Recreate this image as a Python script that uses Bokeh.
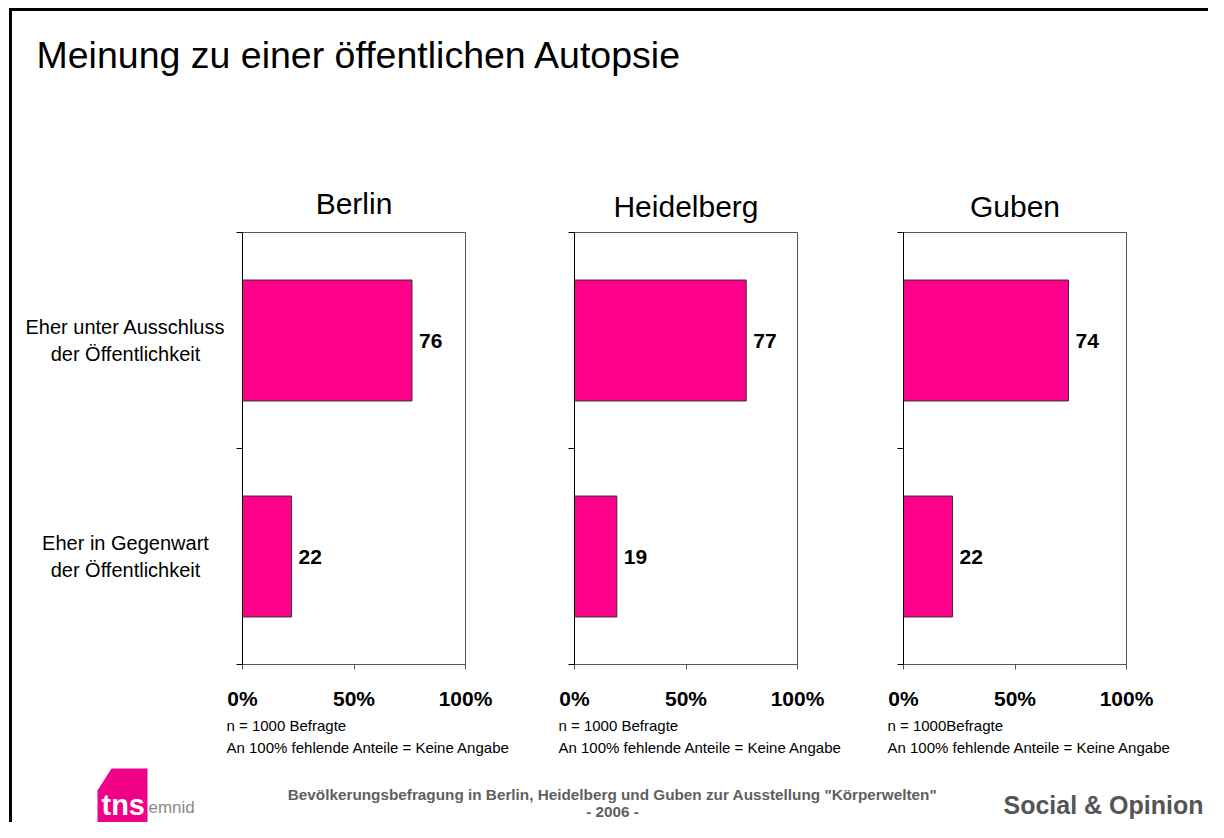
from bokeh.plotting import figure
from bokeh.layouts import row, column
from bokeh.models import Range1d, FixedTicker, Div
from bokeh.core.properties import value
from bokeh.embed import file_html
from bokeh.resources import INLINE

# ---------------- data ----------------
title_text = "Meinung zu einer öffentlichen Autopsie"
cities = ["Berlin", "Heidelberg", "Guben"]
categories = ["Eher unter Ausschluss\nder Öffentlichkeit",
              "Eher in Gegenwart\nder Öffentlichkeit"]
berlin = [76, 22]
heidelberg = [77, 19]
guben = [74, 22]
x_ticks = [0, 50, 100]
x_tick_labels = ["0%", "50%", "100%"]
sample_notes = ["n = 1000 Befragte", "n = 1000 Befragte", "n = 1000Befragte"]
missing_note = "An 100% fehlende Anteile = Keine Angabe"
footer_lines = ['Bevölkerungsbefragung in Berlin, Heidelberg und Guben zur Ausstellung "Körperwelten"',
                "- 2006 -"]
brand_text = "Social & Opinion"

series = [berlin, heidelberg, guben]

# ---------------- layout constants (picture pixels) ----------------
FONT = "Liberation Sans"
PINK = "#FF008C"
ROOT_W, ROOT_H = 1208, 822
BORDER_X, BORDER_Y, BORDER_T = 9, 8, 3
LEFT = BORDER_X + BORDER_T          # 12
HEADER_TOP = BORDER_Y + BORDER_T    # 11
PANEL_TOP, PANEL_BOTTOM = 226, 714
CAT_W = 214
fig_w = [330, 330, ROOT_W - (LEFT + CAT_W + 660)]
frame_left_border = [16, 18, 17]
FRAME_W = 223
frame_top_border = [6, 5, 6]
frame_h = [435, 433, 434]

fig_x = [LEFT + CAT_W]
for w in fig_w[:-1]:
    fig_x.append(fig_x[-1] + w)
frame_x = [fx + b for fx, b in zip(fig_x, frame_left_border)]

ys = [i + 0.5 for i in range(len(categories))]


def blank(w, h, xr, yr, **kw):
    p = figure(width=w, height=h, x_range=xr, y_range=yr, toolbar_location=None,
               tools="", output_backend="svg", x_axis_type=None, y_axis_type=None,
               outline_line_color=None, **kw)
    p.grid.visible = False
    return p


# ---------------- header ----------------
header = blank(ROOT_W - LEFT, PANEL_TOP - HEADER_TOP, Range1d(LEFT, ROOT_W),
               Range1d(PANEL_TOP, HEADER_TOP), min_border=0)
header.text(x=[36], y=[54], text=[title_text], text_font=value(FONT),
            text_font_size="37.5px", text_baseline="middle", text_align="left",
            text_color="black")
header.text(x=[fx + FRAME_W / 2 for fx in frame_x], y=[203, 206, 206], text=cities,
            text_font=value(FONT), text_font_size="30px", text_baseline="middle",
            text_align="center", text_color="black")

# ---------------- panels ----------------
shared_y = Range1d(len(categories), 0)
panel_h = PANEL_BOTTOM - PANEL_TOP

catfig = blank(CAT_W, panel_h, Range1d(LEFT, LEFT + CAT_W), shared_y,
               min_border=0, min_border_top=frame_top_border[0],
               min_border_bottom=panel_h - frame_top_border[0] - frame_h[0])
catfig.text(x=[125] * len(categories), y=ys, text=categories, text_font=value(FONT),
            text_font_size="20px", text_align="center", text_baseline="middle",
            text_line_height=1.2, text_color="black")

panels = []
for i, vals in enumerate(series):
    yr = shared_y if i == 0 else Range1d(len(categories), 0)
    p = figure(width=fig_w[i], height=panel_h, x_range=Range1d(0, 100), y_range=yr,
               toolbar_location=None, tools="", output_backend="svg",
               min_border_left=frame_left_border[i],
               min_border_right=fig_w[i] - frame_left_border[i] - FRAME_W,
               min_border_top=frame_top_border[i],
               min_border_bottom=panel_h - frame_top_border[i] - frame_h[i],
               outline_line_color="#555555", outline_line_width=1)
    p.grid.visible = False
    p.hbar(y=ys, left=0, right=vals, height=0.56, fill_color=PINK,
           line_color="#333333", line_width=1)
    p.text(x=vals, y=ys, text=[str(v) for v in vals], x_offset=7,
           text_font=value(FONT), text_font_style="bold", text_font_size="21px",
           text_baseline="middle", text_align="left", text_color="black")
    xa = p.xaxis[0]
    xa.ticker = FixedTicker(ticks=x_ticks)
    xa.major_label_overrides = dict(zip(x_ticks, x_tick_labels))
    xa.minor_tick_line_color = None
    xa.major_tick_in = 0
    xa.major_tick_out = 5
    xa.major_tick_line_color = "#555555"
    xa.axis_line_color = "#555555"
    xa.major_label_standoff = 17
    xa.major_label_text_font = FONT
    xa.major_label_text_font_style = "bold"
    xa.major_label_text_font_size = "21px"
    xa.major_label_text_color = "black"
    ya = p.yaxis[0]
    ya.ticker = FixedTicker(ticks=[0, 1, 2])
    ya.major_label_overrides = {0: "", 1: "", 2: ""}
    ya.major_label_text_font_size = "0px"
    ya.major_label_standoff = 0
    ya.minor_tick_line_color = None
    ya.major_tick_in = 0
    ya.major_tick_out = 6
    ya.major_tick_line_color = "black"
    ya.axis_line_color = "black"
    ya.axis_line_width = 1
    panels.append(p)

# ---------------- footer ----------------
footer = blank(ROOT_W - LEFT, ROOT_H - PANEL_BOTTOM, Range1d(LEFT, ROOT_W),
               Range1d(ROOT_H, PANEL_BOTTOM), min_border=0)
footer.text(x=[fx - 16 for fx in frame_x], y=[725] * 3, text=sample_notes,
            text_font=value(FONT), text_font_size="15px", text_baseline="middle",
            text_align="left", text_color="black")
footer.text(x=[fx - 16 for fx in frame_x], y=[747] * 3, text=[missing_note] * 3,
            text_font=value(FONT), text_font_size="15px", text_baseline="middle",
            text_align="left", text_color="black")
footer.text(x=[612, 612], y=[794, 811], text=footer_lines, text_font=value(FONT),
            text_font_style="bold", text_font_size="15.3px", text_baseline="middle",
            text_align="center", text_color="#5f5f5f")
footer.text(x=[1203], y=[804], text=[brand_text], text_font=value(FONT),
            text_font_style="bold", text_font_size="25px", text_baseline="middle",
            text_align="right", text_color="#555555")
# logo
footer.patch(x=[97, 97, 111, 147, 147], y=[830, 790, 768, 768, 830], fill_color="#EE0088",
             line_color=None)
footer.text(x=[101], y=[804], text=["tns"], text_font=value(FONT), text_font_style="bold",
            text_font_size="29px", text_baseline="middle", text_align="left",
            text_color="white")
footer.text(x=[148], y=[807], text=["emnid"], text_font=value(FONT),
            text_font_size="17px", text_baseline="middle", text_align="left",
            text_color="#8a8a8a")

# ---------------- assemble ----------------
inner_w = ROOT_W - LEFT
inner_h = ROOT_H - HEADER_TOP
white_left = Div(text="", width=BORDER_X, height=ROOT_H, margin=0)
white_top = Div(text="", width=ROOT_W - BORDER_X, height=BORDER_Y, margin=0)
top_bar = Div(text="", width=ROOT_W - BORDER_X, height=BORDER_T, margin=0,
              styles={"background-color": "#000000"})
left_bar = Div(text="", width=BORDER_T, height=inner_h, margin=0,
               styles={"background-color": "#000000"})
panel_row = row([catfig] + panels, spacing=0)
inner = column([header, panel_row, footer], spacing=0)
right_part = column([white_top, top_bar, row([left_bar, inner], spacing=0)], spacing=0)
root = row([white_left, right_part], spacing=0)

open("out.html", "w").write(file_html(root, INLINE))
